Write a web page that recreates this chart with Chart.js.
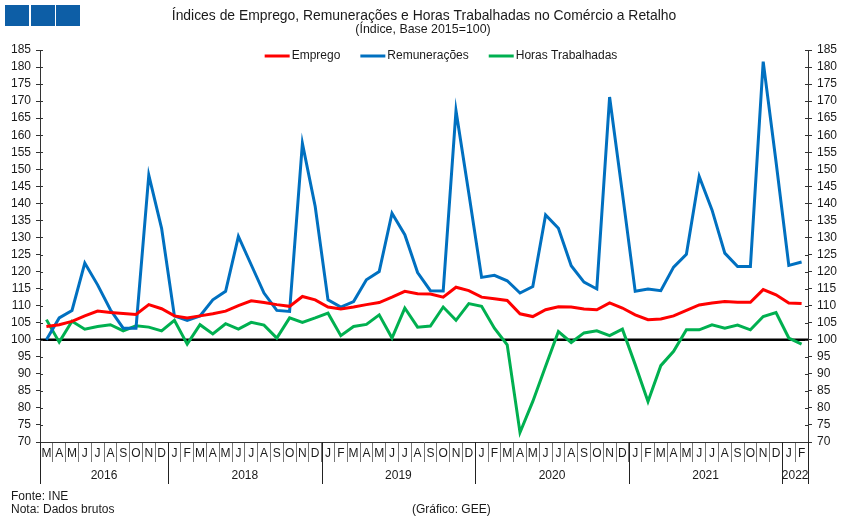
<!DOCTYPE html>
<html>
<head>
<meta charset="utf-8">
<script src="https://cdn.jsdelivr.net/npm/chart.js@4/dist/chart.umd.min.js"></script>
<style>
  html, body { margin: 0; padding: 0; background: #fff; }
  #wrap { width: 851px; height: 524px; }
</style>
</head>
<body>
<div id="wrap"><canvas id="chart" width="851" height="524"></canvas></div>
<script>
// ── DATA ─────────────────────────────────────────

const MONTHS = [
  "M","A","M","J","J","A","S","O","N","D",
  "J","F","M","A","M","J","J","A","S","O","N","D",
  "J","F","M","A","M","J","J","A","S","O","N","D",
  "J","F","M","A","M","J","J","A","S","O","N","D",
  "J","F","M","A","M","J","J","A","S","O","N","D",
  "J","F"
];
const YEARS       = ["2016", "2018", "2019", "2020", "2021", "2022"];
const YEAR_MONTHS = [10, 12, 12, 12, 12, 2];

const EMPREGO = [
  103.9,104.4,105.4,107.0,108.4,108.0,107.7,107.4,110.3,109.1,
  107.0,106.4,107.0,107.6,108.4,110.0,111.4,110.9,110.3,109.8,112.7,111.7,
  109.6,109.0,109.6,110.3,110.9,112.5,114.2,113.5,113.4,112.5,115.4,114.4,
  112.5,112.0,111.5,107.6,106.8,108.8,109.7,109.6,109.0,108.8,110.8,109.3,
  107.3,105.9,106.1,107.0,108.6,110.2,110.8,111.2,111.0,111.0,114.7,113.2,
  110.8,110.6
];
const REMUNERACOES = [
  100.0,106.4,108.6,122.5,116.1,108.8,103.4,103.4,148.3,132.7,
  107.0,105.7,107.0,111.7,114.2,130.3,122.0,113.7,108.6,108.3,157.6,139.1,
  111.7,109.6,111.2,117.6,120.0,137.1,130.8,119.7,114.4,114.3,167.2,143.0,
  118.3,118.9,117.3,113.7,115.6,136.6,132.7,121.7,116.9,114.9,171.2,143.0,
  114.2,114.9,114.4,121.3,125.1,147.9,138.1,125.4,121.5,121.5,181.6,152.3,
  121.8,122.8
];
const HORAS = [
  105.9,99.3,105.4,103.1,103.9,104.4,102.6,104.1,103.7,102.6,
  105.7,98.7,104.4,101.7,104.7,103.1,105.1,104.3,100.5,106.4,105.1,106.4,
  107.8,101.2,103.9,104.5,107.3,100.5,109.3,103.7,104.0,109.6,105.7,110.6,
  109.8,103.4,98.5,72.8,81.9,92.2,102.4,99.2,102.0,102.6,101.2,103.1,
  92.7,81.9,92.4,96.6,102.9,102.9,104.4,103.4,104.3,102.9,106.8,108.0,
  100.5,98.7
];

const Y_MIN = 70, Y_MAX = 185, Y_STEP = 5, BASE = 100;

const TITLE    = "Índices de Emprego, Remunerações e Horas Trabalhadas no Comércio a Retalho";
const SUBTITLE = "(Índice, Base 2015=100)";

// ── STYLE ────────────────────────────────────────

const FONT = "'Liberation Sans', Arial, sans-serif";
const TXT  = "#1a1a1a";

// ── DECORATION PLUGIN ────────────────────────────

const decor = {
  id: "decor",
  beforeDatasetsDraw(chart) {
    const { ctx, chartArea: a, scales } = chart;
    const y = scales.y.getPixelForValue(BASE);
    ctx.save();
    ctx.strokeStyle = "#000";
    ctx.lineWidth = 2.5;
    ctx.beginPath();
    ctx.moveTo(a.left, y);
    ctx.lineTo(a.right, y);
    ctx.stroke();
    ctx.restore();
  },
  afterDraw(chart) {
    const { ctx, chartArea: a, scales } = chart;
    ctx.save();

    // logo squares
    ctx.fillStyle = "#0d5ea6";
    [5, 31, 56].forEach(x => ctx.fillRect(x, 5, 24, 21));

    // title
    ctx.fillStyle = TXT;
    ctx.textAlign = "center";
    ctx.textBaseline = "middle";
    ctx.font = "13.9px " + FONT;
    ctx.fillText(TITLE, 424, 16);
    ctx.font = "12.4px " + FONT;
    ctx.fillText(SUBTITLE, 423, 30);

    // legend
    ctx.font = "12px " + FONT;
    ctx.textAlign = "left";
    const items = chart.data.datasets;
    const widths = items.map(d => ctx.measureText(d.label).width);
    const total = widths.reduce((s, w) => s + w + 27, 0) + 20 * (items.length - 1);
    let lx = 441 - total / 2;
    items.forEach((d, i) => {
      ctx.strokeStyle = d.borderColor;
      ctx.lineWidth = 3;
      ctx.beginPath();
      ctx.moveTo(lx, 56);
      ctx.lineTo(lx + 25, 56);
      ctx.stroke();
      ctx.fillStyle = TXT;
      ctx.fillText(d.label, lx + 27, 56);
      lx += 27 + widths[i] + 20;
    });

    // inner tick marks on both value axes
    ctx.strokeStyle = "#333";
    ctx.lineWidth = 1;
    for (let v = Y_MIN; v <= Y_MAX; v += Y_STEP) {
      const py = Math.round(scales.y.getPixelForValue(v)) + 0.5;
      ctx.beginPath();
      ctx.moveTo(a.left, py); ctx.lineTo(a.left + 3, py);
      ctx.moveTo(a.right, py); ctx.lineTo(a.right - 3, py);
      ctx.stroke();
    }

    // year row
    const xs = scales.x;
    const edge = k => k <= 0 ? a.left
      : k >= MONTHS.length ? a.right
      : (xs.getPixelForValue(k - 1) + xs.getPixelForValue(k)) / 2;
    ctx.strokeStyle = "#222";
    ctx.fillStyle = TXT;
    ctx.textAlign = "center";
    ctx.font = "12px " + FONT;
    let k = 0;
    YEARS.forEach((yr, i) => {
      const x0 = edge(k), x1 = edge(k + YEAR_MONTHS[i]);
      [x0, x1].forEach(x => {
        const px = Math.round(x) + 0.5;
        ctx.beginPath();
        ctx.moveTo(px, a.bottom);
        ctx.lineTo(px, a.bottom + 42);
        ctx.stroke();
      });
      ctx.fillText(yr, (x0 + x1) / 2, a.bottom + 34);
      k += YEAR_MONTHS[i];
    });

    // notes
    ctx.textAlign = "left";
    ctx.fillText("Fonte: INE", 11, 497);
    ctx.fillText("Nota: Dados brutos", 11, 510);
    ctx.fillText("(Gráfico: GEE)", 412, 510);

    ctx.restore();
  }
};

// ── CHART ────────────────────────────────────────

const yAxis = (pos, w) => ({
  position: pos,
  min: Y_MIN,
  max: Y_MAX,
  afterFit: s => { s.width = w; },
  grid: { drawOnChartArea: false, tickLength: 4, color: "#333" },
  border: { color: "#333", width: 1 },
  ticks: {
    stepSize: Y_STEP,
    autoSkip: false,
    color: TXT,
    padding: 5,
    font: { family: FONT, size: 12 },
  },
});

new Chart(document.getElementById("chart"), {
  type: "line",
  data: {
    labels: MONTHS,
    datasets: [
      { label: "Emprego",           data: EMPREGO,      borderColor: "#ff0000" },
      { label: "Remunerações",      data: REMUNERACOES, borderColor: "#0070c0" },
      { label: "Horas Trabalhadas", data: HORAS,        borderColor: "#00b050" },
    ].map(d => ({ ...d, borderWidth: 3, pointRadius: 0, tension: 0, fill: false })),
  },
  options: {
    responsive: false,
    animation: false,
    layout: { padding: { top: 50, left: 0, right: 0, bottom: 0 } },
    plugins: {
      legend: { display: false },
      title: { display: false },
      tooltip: { enabled: false },
    },
    scales: {
      x: {
        offset: true,
        afterFit: s => { s.height = 82; },
        grid: { drawOnChartArea: false, offset: true, tickLength: 20, color: "#777" },
        border: { color: "#333", width: 1 },
        ticks: {
          autoSkip: false,
          maxRotation: 0,
          padding: -16,
          color: TXT,
          font: { family: FONT, size: 12 },
        },
      },
      y: yAxis("left", 40),
      y2: yAxis("right", 43),
    },
  },
  plugins: [decor],
});
</script>
</body>
</html>
